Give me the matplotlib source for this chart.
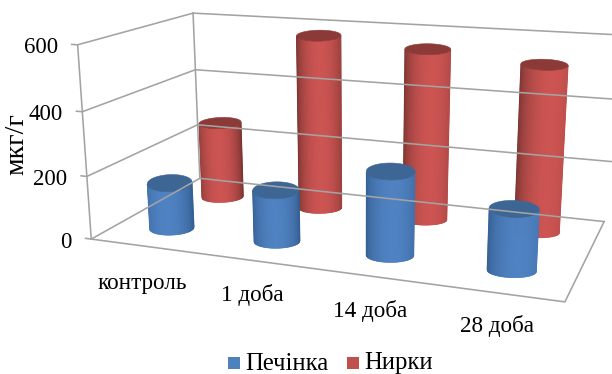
import numpy as np
import matplotlib.pyplot as plt
from matplotlib.collections import PolyCollection
from matplotlib.patches import Rectangle, Polygon

plt.rcParams['font.family'] = ['Liberation Serif', 'DejaVu Serif']

# Дані
categories = ['контроль', '1 доба', '14 доба', '28 доба']
series_names = ['Печінка', 'Нирки']
pechinka = [148, 162, 256, 183]
nyrky = [261, 576, 553, 527]
y_ticks = [0, 200, 400, 600]
y_max = 600

# Пари (u, v, z) -> (x, y) для підбору перспективної проекції
world = [(0, 0, 0), (1, 0, 0), (1, 1, 0), (0, 1, 0),
         (0, 0, 1), (0, 1, 1), (1, 1, 1),
         (0, 0, 1/3), (0, 0, 2/3), (0, 1, 1/3), (0, 1, 2/3),
         (1, 1, 1/3), (1, 1, 2/3)]
screen = [(91, 239), (565, 302), (604, 221), (200, 179),
          (78, 45), (193, 13), (616, 34.5),
          (87, 176), (82, 112), (198, 124), (195, 70),
          (608, 162), (612, 99)]


def fit_camera(world, screen):
    rows = []
    for (u, v, z), (x, y) in zip(world, screen):
        rows.append([u, v, z, 1, 0, 0, 0, 0, -x*u, -x*v, -x*z, -x])
        rows.append([0, 0, 0, 0, u, v, z, 1, -y*u, -y*v, -y*z, -y])
    _, _, vt = np.linalg.svd(np.array(rows, dtype=float))
    return vt[-1].reshape(3, 4)


cam = fit_camera(world, screen)


def project(u, v, value):
    u, v, value = np.broadcast_arrays(u, v, np.asarray(value, dtype=float) / y_max)
    pts = np.stack([u, v, value, np.ones_like(u, dtype=float)], axis=-1) @ cam.T
    return pts[..., :2] / pts[..., 2:]


def ellipse_points(center, a, b, tilt, s, side):
    # s йде від -1 до 1 вздовж великої осі, side=1 нижня дуга, side=-1 верхня
    x = center[0] + a*s
    y = center[1] + a*s*tilt + side*b*np.sqrt(np.clip(1 - s**2, 0, 1))
    return np.column_stack([x, y])


def cylinder(ax, u0, v0, value, dark, light, top, b_base, b_cap):
    ru = 0.056 - 0.008*u0
    base = project(u0, v0, 0)
    head = project(u0, v0, value)
    a_base = (project(u0 + ru, v0, 0) - project(u0 - ru, v0, 0))[0] / 2
    a_cap = (project(u0 + ru, v0, value) - project(u0 - ru, v0, value))[0] / 2
    tilt = -0.055 + 0.1*u0

    # бічна поверхня смужками зліва направо
    s = np.linspace(-1, 1, 81)
    # чим далі праворуч, тим більше зсунутий відблиск
    off = (u0 - 0.4)*0.6 + (v0 - 0.25)*0.2
    low = ellipse_points(base, a_base, b_base, tilt, s, 1)
    high = ellipse_points(head, a_cap, b_cap, tilt, s, 1)
    mid = (s[:-1] + s[1:]) / 2
    k = np.cos(np.pi/2 * (mid - off) / (1 + abs(off))) ** 0.55
    colors = np.array(dark) + (np.array(light) - np.array(dark)) * k[:, None]
    quads = [[low[i], low[i+1], high[i+1], high[i]] for i in range(len(mid))]
    ax.add_collection(PolyCollection(quads, facecolors=colors, edgecolors=colors, linewidths=0.4))

    cap = np.vstack([ellipse_points(head, a_cap, b_cap, tilt, s, 1),
                     ellipse_points(head, a_cap, b_cap, tilt, s[::-1], -1)])
    ax.add_patch(Polygon(cap, closed=True, facecolor=top, edgecolor=top, linewidth=0.4))


fig = plt.figure(figsize=(6.12, 3.74), dpi=100)
ax = fig.add_axes([0, 0, 1, 1])
ax.set_xlim(0, 612)
ax.set_ylim(374, 0)
ax.axis('off')

grid_color = '#a3a3a3'
lw = 1.15

# Стіни та підлога
for tick in y_ticks:
    line = project(np.array([-0.014, 0, 0]), np.array([0, 0, 1]), tick)
    ax.plot(line[:, 0], line[:, 1], color=grid_color, lw=lw)
    line = project(np.array([0, 1 if tick == 0 else 1.2]), np.array([1, 1]), tick)
    ax.plot(line[:, 0], line[:, 1], color=grid_color, lw=lw)
line = project(np.array([0, 1, 1]), np.array([0, 0, 1]), 0)
ax.plot(line[:, 0], line[:, 1], color=grid_color, lw=lw)
for v in [0, 1]:
    line = project(np.array([0, 0]), np.array([v, v]), np.array([0, y_max]))
    ax.plot(line[:, 0], line[:, 1], color=grid_color, lw=lw)

# Задній ряд малюється першим
n = len(categories)
for i in range(n):
    cylinder(ax, (i + 0.5)/n, 0.75, nyrky[i], (0.45, 0.19, 0.18), (0.80, 0.33, 0.32), '#8c3a38', 5.5, 5.5)
for i in range(n):
    cylinder(ax, (i + 0.5)/n, 0.25, pechinka[i], (0.19, 0.35, 0.55), (0.31, 0.51, 0.76), '#3d6695', 7, 8.5)

# Підписи
for tick in y_ticks:
    x, y = project(0, 0, tick)
    ax.text(x - 20, y + 3, str(tick), ha='right', va='center', fontsize=16.5, color='black')
ax.text(17, 144, 'мкг/г', rotation=90, ha='center', va='center', fontsize=20, color='black')

label_pos = [(142, 283), (252, 295), (370, 311), (497, 326)]
for name, (x, y) in zip(categories, label_pos):
    ax.text(x, y, name, ha='center', va='center', fontsize=16.7, color='black')

# Легенда
ax.add_patch(Rectangle((228, 357), 12, 12, facecolor='#4f81bd', edgecolor='none'))
ax.add_patch(Rectangle((347, 357), 12, 12, facecolor='#c0504d', edgecolor='none'))
ax.text(245, 369.5, series_names[0], ha='left', va='baseline', fontsize=17.7, color='black')
ax.text(364, 369.5, series_names[1], ha='left', va='baseline', fontsize=17.7, color='black')

fig.savefig('out.png', dpi=100)
